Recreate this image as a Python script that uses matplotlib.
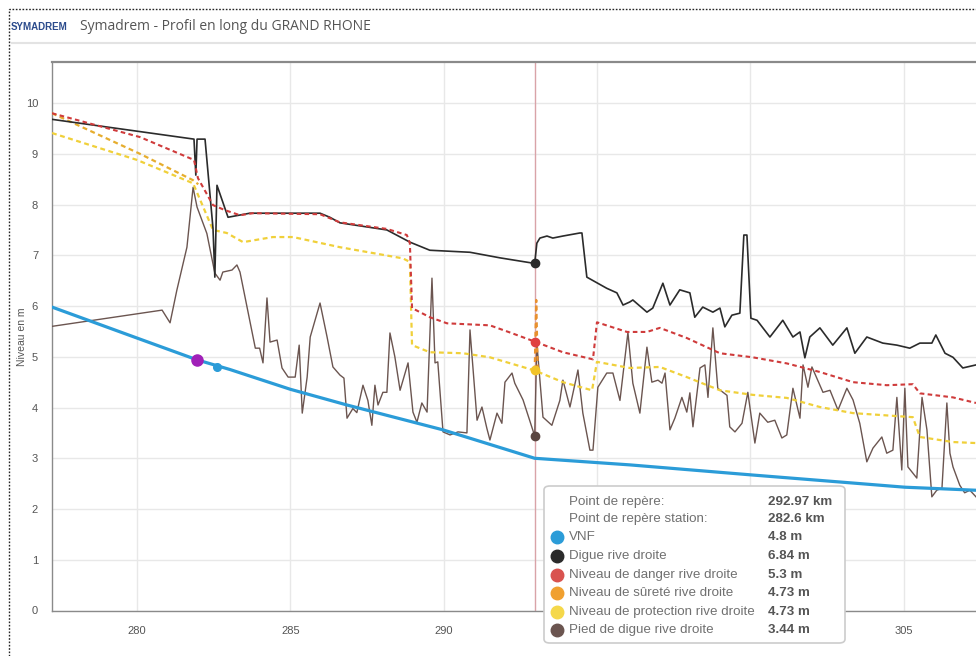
import numpy as np
import matplotlib.pyplot as plt
from matplotlib.patches import FancyBboxPatch, Rectangle
from matplotlib.lines import Line2D

plt.rcParams['font.family'] = ['Liberation Sans', 'DejaVu Sans']

# --- data (km, m) ---
vnf_km = [277.23, 280.0, 281.96, 283.03, 285.0, 286.85, 289.98, 292.97, 296.07, 300.08, 305.04, 307.36]
vnf_m = [5.98, 5.37, 4.94, 4.75, 4.36, 4.05, 3.56, 3.0, 2.87, 2.67, 2.43, 2.37]

digue_km = [277.23, 281.86, 281.92, 281.96, 282.22, 282.48, 282.54, 282.61, 282.97, 283.68, 285.97,
            286.29, 286.62, 288.15, 288.9, 289.55, 290.86, 291.84, 292.97, 293.04, 293.14, 293.37,
            293.56, 293.89, 294.44, 294.51, 294.67, 295.32, 295.65, 295.85, 296.07, 296.17, 296.63,
            296.82, 297.15, 297.38, 297.7, 298.03, 298.19, 298.45, 298.78, 299.01, 299.17, 299.4,
            299.66, 299.79, 299.89, 300.02, 300.22, 300.64, 301.06, 301.39, 301.62, 301.78, 301.94,
            302.27, 302.69, 303.15, 303.41, 303.8, 304.32, 304.78, 305.2, 305.53, 305.92, 306.05,
            306.35, 306.61, 306.93, 307.36]
digue_m = [9.68, 9.29, 8.58, 9.29, 9.29, 7.53, 6.57, 8.38, 7.75, 7.83, 7.83,
           7.75, 7.64, 7.5, 7.26, 7.1, 7.06, 6.95, 6.84, 7.24, 7.34, 7.38,
           7.34, 7.38, 7.44, 7.44, 6.57, 6.35, 6.26, 6.02, 6.08, 6.12, 5.88,
           5.96, 6.45, 6.02, 6.32, 6.26, 5.78, 5.98, 5.88, 5.96, 5.59, 5.82,
           5.86, 7.4, 7.4, 5.76, 5.72, 5.39, 5.72, 5.39, 5.49, 4.98, 5.39,
           5.57, 5.23, 5.57, 5.07, 5.39, 5.27, 5.23, 5.17, 5.27, 5.27, 5.43,
           5.07, 4.99, 4.78, 4.84]

danger_km = [277.23, 280.1, 281.86, 281.99, 282.48, 282.87, 283.36, 283.78, 285.97, 286.62, 288.15,
             288.8, 288.9, 288.97, 289.55, 290.11, 291.51, 292.16, 292.97, 293.89, 294.87, 295.0,
             295.98, 296.63, 297.05, 297.93, 299.01, 300.08, 301.19, 302.27, 303.35, 304.45, 305.3,
             305.53, 306.61, 307.36]
danger_m = [9.8, 9.33, 8.88, 8.52, 7.99, 7.89, 7.79, 7.83, 7.81, 7.65, 7.52,
            7.4, 7.24, 5.96, 5.78, 5.66, 5.62, 5.48, 5.3, 5.09, 4.95, 5.68,
            5.49, 5.49, 5.57, 5.37, 5.07, 4.99, 4.87, 4.7, 4.5, 4.44, 4.46,
            4.28, 4.2, 4.09]

# sûreté: visible upstream part, and the spike at the cursor (elsewhere it lies under protection)
surete_km = [277.23, 280.1, 281.83, 282.0]
surete_m = [9.8, 9.0, 8.48, 8.4]
surete_spike_km = [292.97, 293.02, 293.07]
surete_spike_m = [4.73, 6.12, 4.7]

protect_km = [277.23, 280.0, 281.83, 282.48, 282.93, 283.46, 284.43, 285.09, 286.62, 288.67, 288.9,
              288.97, 289.55, 290.63, 291.51, 292.97, 293.89, 294.84, 295.0, 296.07, 297.05, 297.93,
              299.01, 300.08, 301.19, 302.27, 303.35, 305.3, 305.53, 306.61, 307.36]
protect_m = [9.41, 8.88, 8.42, 7.5, 7.44, 7.26, 7.36, 7.36, 7.16, 6.94, 6.87,
             5.23, 5.09, 5.07, 4.99, 4.73, 4.5, 4.34, 4.9, 4.78, 4.8, 4.6,
             4.34, 4.25, 4.19, 4.01, 3.89, 3.81, 3.42, 3.32, 3.3]

pied_km = [277.23, 280.82, 281.08, 281.3, 281.63, 281.83, 281.96, 282.28, 282.54, 282.71, 282.8,
           283.1, 283.26, 283.36, 283.59, 283.86, 284.0, 284.11, 284.24, 284.34, 284.57, 284.73,
           284.93, 285.16, 285.29, 285.39, 285.55, 285.65, 285.97, 286.2, 286.39, 286.62, 286.75,
           286.85, 287.04, 287.17, 287.37, 287.53, 287.66, 287.76, 287.86, 288.02, 288.15, 288.25,
           288.41, 288.58, 288.84, 289.0, 289.13, 289.29, 289.46, 289.62, 289.72, 289.81, 289.98,
           290.21, 290.47, 290.76, 290.86, 291.09, 291.25, 291.41, 291.51, 291.74, 291.9, 292.0,
           292.23, 292.32, 292.59, 292.97, 293.04, 293.24, 293.53, 293.79, 293.89, 294.12, 294.38,
           294.54, 294.77, 294.87, 295.03, 295.32, 295.52, 295.75, 296.01, 296.17, 296.4, 296.63,
           296.79, 296.99, 297.12, 297.22, 297.38, 297.54, 297.77, 297.93, 298.03, 298.13, 298.36,
           298.52, 298.62, 298.78, 298.94, 299.24, 299.33, 299.5, 299.73, 299.92, 300.15, 300.31,
           300.57, 300.8, 301.03, 301.19, 301.39, 301.62, 301.72, 301.88, 302.01, 302.37, 302.6,
           302.86, 303.15, 303.35, 303.57, 303.8, 304.0, 304.29, 304.45, 304.65, 304.78, 304.94,
           305.04, 305.14, 305.43, 305.6, 305.76, 305.92, 306.08, 306.25, 306.41, 306.51, 306.61,
           306.83, 306.99, 307.16, 307.36]
pied_m = [5.6, 5.92, 5.67, 6.31, 7.16, 8.34, 7.95, 7.43, 6.65, 6.51, 6.67,
          6.71, 6.81, 6.67, 5.98, 5.17, 5.17, 4.88, 6.16, 5.29, 5.33, 4.78,
          4.6, 4.6, 5.23, 3.89, 4.6, 5.39, 6.06, 5.39, 4.8, 4.64, 4.58,
          3.79, 3.98, 3.9, 4.44, 4.14, 3.65, 4.44, 4.05, 4.3, 4.3, 5.47,
          5.0, 4.34, 4.88, 3.91, 3.71, 4.09, 3.91, 6.55, 4.88, 4.9, 3.52,
          3.46, 3.52, 3.5, 5.53, 3.75, 4.01, 3.59, 3.36, 3.89, 3.69, 4.5,
          4.68, 4.48, 4.15, 3.44, 5.27, 3.81, 3.65, 4.14, 4.54, 4.01, 4.74,
          3.89, 3.16, 3.16, 4.4, 4.68, 4.68, 4.14, 5.48, 4.48, 3.89, 5.19,
          4.5, 4.54, 4.48, 4.68, 3.56, 3.79, 4.2, 3.91, 4.29, 3.62, 4.78,
          4.84, 4.2, 5.57, 4.38, 4.24, 3.62, 3.52, 3.69, 4.3, 3.3, 3.89,
          3.71, 3.75, 3.4, 3.46, 4.38, 3.79, 4.84, 4.4, 4.8, 4.3, 4.34,
          3.95, 4.38, 4.15, 3.69, 2.93, 3.2, 3.42, 3.1, 3.16, 4.2, 2.77,
          4.38, 2.83, 2.61, 4.2, 3.56, 2.24, 2.37, 2.41, 4.09, 3.1, 2.83,
          2.47, 2.32, 2.37, 2.24]

cursor_km = 292.97
station_km, station_m = 282.6, 4.8
purple_km, purple_m = 281.95, 4.93

x_ticks = [280, 285, 290, 295, 300, 305]
x_ticklabels = ['280', '285', '290', '', '', '305']  # 295 / 300 hidden behind the tooltip

tip_labels = ['VNF', 'Digue rive droite', 'Niveau de danger rive droite', 'Niveau de sûreté rive droite',
              'Niveau de protection rive droite', 'Pied de digue rive droite']
tip_values = ['4.8 m', '6.84 m', '5.3 m', '4.73 m', '4.73 m', '3.44 m']
tip_colors = ['#2b9cd8', '#2b2b2b', '#d9534f', '#f0a030', '#f5d84a', '#6b5550']

c_vnf, c_digue, c_danger, c_surete, c_prot, c_pied = tip_colors

W, H = 976, 656
fig = plt.figure(figsize=(W / 100, H / 100), dpi=100)
fig.patch.set_facecolor('white')

def fx(px):
    return px / W

def fy(py):
    return 1 - py / H

ax = fig.add_axes([fx(52), fy(610.5), fx(976) - fx(52), fy(62) - fy(610.5)])
ax.set_xlim(277.23, 307.36)
ax.set_ylim(0, 10.81)

dash = (0, (2.2, 1.6))
ax.plot(vnf_km, vnf_m, color=c_vnf, lw=2.3, zorder=5, solid_capstyle='round')
ax.plot(pied_km, pied_m, color=c_pied, lw=1.0, zorder=3)
ax.plot(digue_km, digue_m, color=c_digue, lw=1.2, zorder=4)
ax.plot(protect_km, protect_m, color='#f0d03a', lw=1.6, ls=dash, zorder=3)
ax.plot(surete_km, surete_m, color='#e6ad2e', lw=1.6, ls=dash, zorder=3)
ax.plot(surete_spike_km, surete_spike_m, color='#e8902e', lw=1.6, ls=dash, zorder=3)
ax.plot(danger_km, danger_m, color='#cf3b3b', lw=1.5, ls=dash, zorder=4)

ax.axvline(cursor_km, color='#d9a3a8', lw=1.0, zorder=2)

ax.plot([cursor_km], [6.84], 'o', color=c_digue, ms=6, zorder=6)
ax.plot([cursor_km], [5.3], 'o', color='#e04040', ms=6, zorder=6)
ax.plot([cursor_km], [4.73], 'o', color='#f2c328', ms=6, zorder=6)
ax.plot([cursor_km], [3.44], 'o', color='#5a4540', ms=6, zorder=6)
ax.plot([station_km], [station_m], 'o', color=c_vnf, ms=5.5, zorder=6)
ax.plot([purple_km], [purple_m], 'o', color='#a020b8', ms=8, zorder=6)

ax.set_xticks(x_ticks, x_ticklabels)
ax.set_yticks(range(0, 11))
ax.grid(color='#e8e8e8', lw=1.0, zorder=0)
ax.set_axisbelow(True)
ax.tick_params(length=0, labelsize=8, colors='#555555')
ax.tick_params(axis='x', pad=11)
ax.tick_params(axis='y', pad=10)
for s in ['left', 'bottom', 'top']:
    ax.spines[s].set_color('#8a8a8a')
    ax.spines[s].set_linewidth(1.0)
ax.spines['top'].set_linewidth(1.6)
ax.spines['right'].set_visible(False)
ax.set_ylabel('Niveau en m', fontsize=7.5, color='#555555', labelpad=-1)

# title bar
fig.add_artist(Rectangle((fx(9), -0.05), 1.2, fy(9) + 0.05, transform=fig.transFigure,
                         fill=False, ls=(0, (1.2, 1.2)), lw=1.0, color='#222222'))
fig.add_artist(Line2D([fx(12), 1], [fy(43), fy(43)], transform=fig.transFigure, color='#e3e3e3', lw=1.5))
fig.text(fx(11), fy(27), 'SYMADREM', fontsize=7, fontweight='bold', color='#2b4b8c', va='center')
fig.text(fx(80), fy(27), 'Symadrem - Profil en long du GRAND RHONE', fontsize=10, color='#555555',
         va='center', family=['Open Sans', 'DejaVu Sans'])

# tooltip
box = FancyBboxPatch((fx(544), fy(643)), fx(845) - fx(544), fy(486) - fy(643),
                     boxstyle='round,pad=0,rounding_size=0.006', transform=fig.transFigure,
                     facecolor='white', edgecolor='#cccccc', lw=1.2, zorder=10)
fig.add_artist(box)
rows_y = [502, 519, 537, 556, 575, 593, 612, 630]
fs_tip = 9.6
fig.text(fx(569), fy(rows_y[0]), 'Point de repère:', fontsize=fs_tip, color='#707070', va='center', zorder=11)
fig.text(fx(768), fy(rows_y[0]), '%.2f km' % cursor_km, fontsize=fs_tip, color='#555555',
         fontweight='bold', va='center', zorder=11)
fig.text(fx(569), fy(rows_y[1]), 'Point de repère station:', fontsize=fs_tip, color='#707070', va='center', zorder=11)
fig.text(fx(768), fy(rows_y[1]), '%.1f km' % station_km, fontsize=fs_tip, color='#555555',
         fontweight='bold', va='center', zorder=11)
for i in range(len(tip_labels)):
    yy = fy(rows_y[i + 2])
    fig.add_artist(Line2D([fx(557)], [yy], marker='o', ms=9, color=tip_colors[i],
                          transform=fig.transFigure, zorder=11))
    fig.text(fx(569), yy, tip_labels[i], fontsize=fs_tip, color='#707070', va='center', zorder=11)
    fig.text(fx(768), yy, tip_values[i], fontsize=fs_tip, color='#555555', fontweight='bold',
             va='center', zorder=11)

plt.savefig('out.png', dpi=100)
